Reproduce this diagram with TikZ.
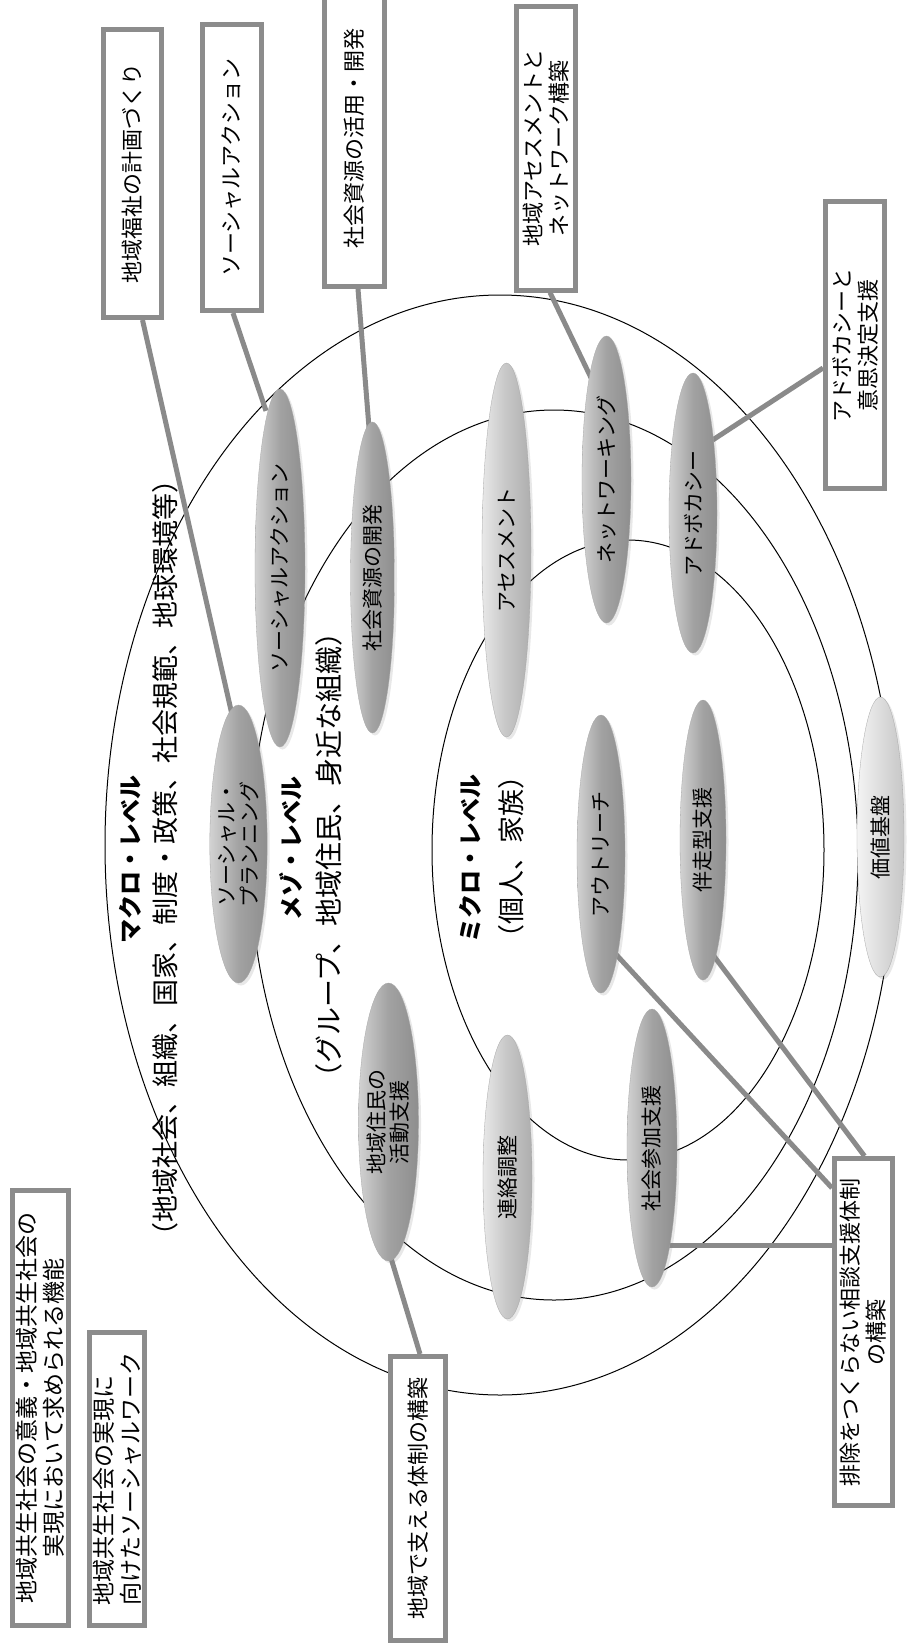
\documentclass[tikz,border=0pt]{standalone}
\usepackage{fontspec}
\setmainfont{Noto Sans CJK JP}
\usetikzlibrary{shapes.geometric,calc,shadows}
\pgfdeclarelayer{paper}\pgfdeclarelayer{rings}\pgfdeclarelayer{links}
\pgfsetlayers{paper,rings,links,main}
\definecolor{boxgray}{HTML}{8C8C8C}
\definecolor{linkgray}{HTML}{8A8A8A}
\definecolor{pmA}{HTML}{D2D2D2}\definecolor{pmB}{HTML}{A2A2A2}\definecolor{pmC}{HTML}{8E8E8E}
\definecolor{plA}{HTML}{E8E8E8}\definecolor{plB}{HTML}{C6C6C6}\definecolor{plC}{HTML}{AEAEAE}
\definecolor{ppA}{HTML}{F4F4F4}\definecolor{ppB}{HTML}{DCDCDC}\definecolor{ppC}{HTML}{C6C6C6}
\begin{document}
\begin{tikzpicture}[x=1pt,y=-1pt,
  every node/.style={inner sep=0pt},
  box/.style={draw=boxgray, line width=5pt, fill=white, rotate=90, align=center,
    font=\fontsize{22}{26}\selectfont},
  bigbox/.style={box, font=\fontsize{23}{27}\selectfont},
  pill/.style={ellipse, rotate=90, align=center, font=\fontsize{21}{23}\selectfont,
    draw=black!35, line width=0.3pt, minimum height=48pt,
    drop shadow={opacity=0.18, shadow xshift=2.5pt, shadow yshift=-2.5pt}},
  pillmid/.style={pill, left color=pmA, right color=pmC, middle color=pmB},
  pilllight/.style={pill, left color=plA, right color=plC, middle color=plB},
  pillpale/.style={pill, left color=ppA, right color=ppC, middle color=ppB},
  ring/.style={line width=1pt, draw=black},
  link/.style={line width=5pt, draw=linkgray},
  lvl/.style={rotate=90, font=\fontsize{24}{24}\selectfont\bfseries},
  par/.style={rotate=90, font=\fontsize{27}{27}\selectfont},
]
\useasboundingbox (0,0) rectangle (909,1650);
\begin{pgfonlayer}{paper}
\fill[white] (0,0) rectangle (909,1650);
\end{pgfonlayer}

% level labels
\node[lvl] (Lmacro) at (130,859) {マクロ・レベル};
\node[par] (Pmacro) at (165,858) {（地域社会、組織、国家、制度・政策、社会規範、地球環境等）};
\node[lvl] (Lmeso) at (291,848) {メゾ・レベル};
\node[par, font=\fontsize{28}{28}\selectfont] (Pmeso) at (329,855) {（グループ、地域住民、身近な組織）};
\node[lvl] (Lmicro) at (470,858) {ミクロ・レベル};
\node[par] (Pmicro) at (511,857) {（個人、家族）};

% boxes
\node[box, minimum width=288pt, minimum height=58pt] (B1) at (132.5,173.5) {地域福祉の計画づくり};
\node[box, minimum width=286pt, minimum height=59pt] (B2) at (232,167.5) {ソーシャルアクション};
\node[box, minimum width=296pt, minimum height=60pt] (B3) at (354.5,138.5) {社会資源の活用・開発};
\node[box, minimum width=284pt, minimum height=59pt] (B4) at (546,148) {地域アセスメントと\\ネットワーク構築};
\node[box, minimum width=287pt, minimum height=59pt] (B5) at (855,345) {アドボカシーと\\意思決定支援};
\node[box, minimum width=284pt, minimum height=55pt] (B6) at (418,1498.5) {地域で支える体制の構築};
\node[box, minimum width=347pt, minimum height=58pt] (B7) at (863.5,1332) {排除をつくらない相談支援体制\\の構築};
\node[bigbox, minimum width=435pt, minimum height=56pt] (B8) at (40.5,1408) {地域共生社会の意義・地域共生社会の\\実現において求められる機能};
\node[bigbox, minimum width=293pt, minimum height=55pt, align=left] (B9) at (117,1479) {地域共生社会の実現に\\向けたソーシャルワーク};

% ellipses
\node[pillmid, minimum width=278pt, minimum height=45pt] (Eplan) at (238.5,844) {ソーシャル・\\プランニング};
\node[pillmid, minimum width=358pt, minimum height=50pt] (Esa) at (280,568) {ソーシャルアクション};
\node[pillmid, minimum width=311pt, minimum height=44pt] (Edev) at (372.5,577.5) {社会資源の開発};
\node[pilllight, minimum width=374pt, minimum height=49pt] (Eas) at (506.5,550) {アセスメント};
\node[pillmid, minimum width=287pt, minimum height=49pt] (Enw) at (606.5,479.5) {ネットワーキング};
\node[pillmid, minimum width=280pt, minimum height=48pt] (Ead) at (693,513) {アドボカシー};
\node[pillmid, minimum width=278pt, minimum height=48pt] (Eout) at (601,854) {アウトリーチ};
\node[pillmid, minimum width=280pt, minimum height=46pt] (Eban) at (703,840) {伴走型支援};
\node[pillpale, minimum width=280pt, minimum height=47pt] (Eval) at (880.5,837) {価値基盤};
\node[pillmid, minimum width=278pt, minimum height=44pt] (Eres) at (388.5,1122) {地域住民の\\活動支援};
\node[pilllight, minimum width=284pt, minimum height=49pt] (Eren) at (507.5,1177) {連絡調整};
\node[pillmid, minimum width=278pt, minimum height=50pt] (Esoc) at (652,1148) {社会参加支援};

% rings
\begin{pgfonlayer}{rings}
\draw[ring] (500,845) ellipse [x radius=395pt, y radius=550pt];
\draw[ring] (554,855) ellipse [x radius=304pt, y radius=445pt];
\draw[ring] (628,850) ellipse [x radius=196pt, y radius=310pt];
\end{pgfonlayer}

% links
\begin{pgfonlayer}{links}
\draw[link] ($(B1.west)+(10,0)$) -- ($(Eplan.east)+(-6,12)$);
\draw[link] ($(B2.west)+(1,0)$) -- ($(Esa.east)+(-14,22)$);
\draw[link] ($(B3.west)+(3.5,0)$) -- ($(Edev.east)+(-3,12)$);
\draw[link] ($(B4.west)+(4,0)$) -- ($(Enw.east)+(-14,45)$);
\draw[link] ($(B5.north)+(0,23)$) -- ($(Ead.south)+(-6,-72)$);
\draw[link] ($(B6.east)+(2,0)$) -- ($(Eres.west)+(1,-8)$);
\draw[link] ($(Esoc.center)+(0,97)$) -- ($(B7.north)+(0,-87)$);
\draw[link] ($(Eout.center)+(-2,82)$) -- ($(B7.north)+(0,-144)$);
\draw[link] ($(Eban.center)+(-5,95)$) -- ($(B7.east)+(1,0)$);
\end{pgfonlayer}
\end{tikzpicture}
\end{document}
